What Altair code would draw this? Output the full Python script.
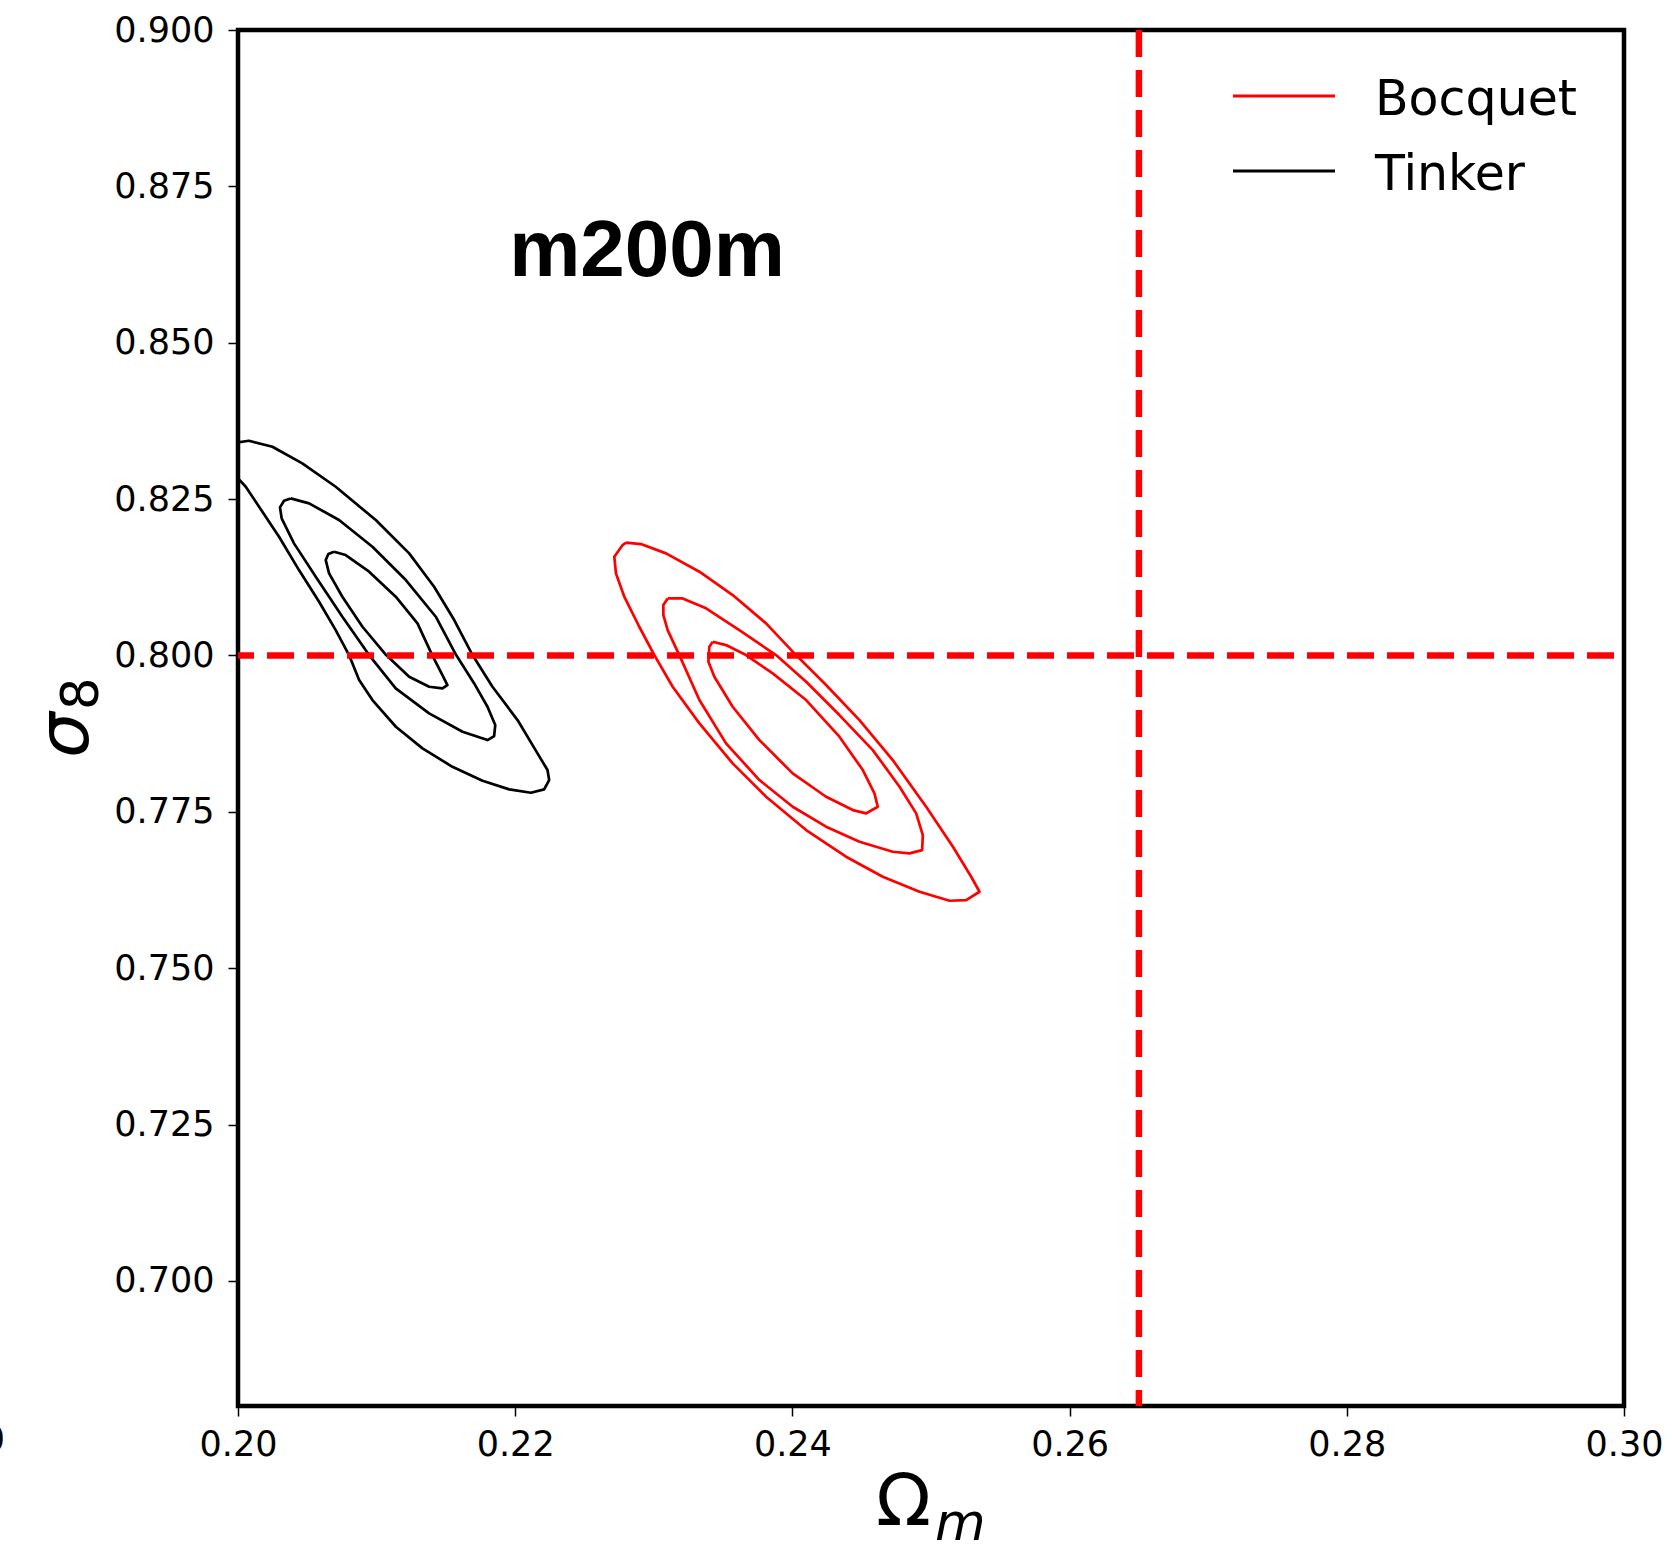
import altair as alt
import pandas as pd

# ---- contour readings (Omega_m, sigma_8) ----
tinker_outer_x = [0.19911, 0.19983, 0.20079, 0.20248, 0.20464, 0.20705, 0.20994, 0.21235, 0.21415, 0.21560,
                  0.21692, 0.21836, 0.22017, 0.22161, 0.22233, 0.22245, 0.22209, 0.22113, 0.21957, 0.21764,
                  0.21547, 0.21331, 0.21139, 0.20970, 0.20874, 0.20801, 0.20705, 0.20585, 0.20440, 0.20296,
                  0.20152, 0.20056, 0.20007, 0.19935]
tinker_outer_y = [0.83257, 0.83401, 0.83433, 0.83337, 0.83072, 0.82697, 0.82165, 0.81632, 0.81098, 0.80566,
                  0.80006, 0.79499, 0.78967, 0.78434, 0.78168, 0.78008, 0.77859, 0.77805, 0.77859, 0.77996,
                  0.78220, 0.78514, 0.78860, 0.79287, 0.79607, 0.80006, 0.80406, 0.80859, 0.81365, 0.81898,
                  0.82378, 0.82697, 0.82816, 0.83072]

tinker_mid_x = [0.20380, 0.20513, 0.20729, 0.20970, 0.21211, 0.21427, 0.21574, 0.21704, 0.21800, 0.21856,
                0.21848, 0.21800, 0.21620, 0.21379, 0.21138, 0.20946, 0.20753, 0.20561, 0.20404, 0.20315,
                0.20303, 0.20332]
tinker_mid_y = [0.82511, 0.82432, 0.82165, 0.81739, 0.81206, 0.80619, 0.80006, 0.79553, 0.79180, 0.78887,
                0.78711, 0.78647, 0.78781, 0.79074, 0.79473, 0.80006, 0.80619, 0.81259, 0.81792, 0.82192,
                0.82368, 0.82474]

tinker_in_x = [0.20693, 0.20777, 0.20946, 0.21138, 0.21295, 0.21401, 0.21475, 0.21511, 0.21475, 0.21379,
               0.21235, 0.21069, 0.20898, 0.20753, 0.20657, 0.20633, 0.20652]
tinker_in_y = [0.81659, 0.81605, 0.81339, 0.80939, 0.80513, 0.80006, 0.79687, 0.79527, 0.79473, 0.79500,
               0.79660, 0.80006, 0.80459, 0.80939, 0.81312, 0.81525, 0.81621]

bocquet_outer_x = [0.22799, 0.22907, 0.23088, 0.23329, 0.23569, 0.23810, 0.24026, 0.24243, 0.24484, 0.24724,
                   0.24965, 0.25158, 0.25290, 0.25350, 0.25254, 0.25134, 0.24917, 0.24652, 0.24387, 0.24099,
                   0.23810, 0.23569, 0.23329, 0.23136, 0.23004, 0.22895, 0.22787, 0.22727, 0.22715, 0.22775]
bocquet_outer_y = [0.81803, 0.81781, 0.81632, 0.81339, 0.80966, 0.80513, 0.80006, 0.79527, 0.78967, 0.78327,
                   0.77581, 0.76942, 0.76462, 0.76222, 0.76089, 0.76078, 0.76222, 0.76462, 0.76782, 0.77208,
                   0.77741, 0.78274, 0.78914, 0.79500, 0.80006, 0.80459, 0.80939, 0.81312, 0.81579, 0.81765]

bocquet_mid_x = [0.23100, 0.23208, 0.23377, 0.23617, 0.23882, 0.24099, 0.24339, 0.24580, 0.24773, 0.24893,
                 0.24941, 0.24936, 0.24845, 0.24724, 0.24484, 0.24243, 0.24002, 0.23762, 0.23521, 0.23329,
                 0.23184, 0.23100, 0.23069, 0.23069]
bocquet_mid_y = [0.80912, 0.80912, 0.80753, 0.80406, 0.80006, 0.79580, 0.79047, 0.78487, 0.77901, 0.77475,
                 0.77128, 0.76888, 0.76835, 0.76862, 0.77022, 0.77262, 0.77581, 0.78008, 0.78594, 0.79287,
                 0.80006, 0.80406, 0.80646, 0.80806]

bocquet_in_x = [0.23425, 0.23521, 0.23665, 0.23858, 0.24099, 0.24339, 0.24508, 0.24592, 0.24616, 0.24532,
                0.24436, 0.24243, 0.24002, 0.23762, 0.23569, 0.23437, 0.23394, 0.23401]
bocquet_in_y = [0.80220, 0.80166, 0.80006, 0.79713, 0.79287, 0.78701, 0.78168, 0.77794, 0.77581, 0.77475,
                0.77528, 0.77741, 0.78114, 0.78647, 0.79180, 0.79660, 0.79900, 0.80140]

fiducial_omega_m = 0.265
fiducial_sigma_8 = 0.800

models = ["Bocquet", "Tinker"]
model_colors = ["#ff0000", "#000000"]
panel_label = "m200m"

x_ticks = [0.20, 0.22, 0.24, 0.26, 0.28, 0.30]
y_ticks = [0.700, 0.725, 0.750, 0.775, 0.800, 0.825, 0.850, 0.875, 0.900]
x_domain = [0.20, 0.30]
y_domain = [0.68, 0.90]

# ---- build table ----
rows = []
contours = [
    ("Tinker", "t1", tinker_outer_x, tinker_outer_y),
    ("Tinker", "t2", tinker_mid_x, tinker_mid_y),
    ("Tinker", "t3", tinker_in_x, tinker_in_y),
    ("Bocquet", "b1", bocquet_outer_x, bocquet_outer_y),
    ("Bocquet", "b2", bocquet_mid_x, bocquet_mid_y),
    ("Bocquet", "b3", bocquet_in_x, bocquet_in_y),
]
for model, cid, xs_, ys_ in contours:
    pts = list(zip(xs_, ys_)) + [(xs_[0], ys_[0])]
    for i, (a, b) in enumerate(pts):
        rows.append({"model": model, "contour": cid, "om": a, "s8": b, "i": i})
df = pd.DataFrame(rows)

W, H = 1386, 1376

xs = alt.Scale(domain=x_domain, nice=False, zero=False)
ys = alt.Scale(domain=y_domain, nice=False, zero=False)

lines = alt.Chart(df).mark_line(strokeWidth=2.7, clip=True, strokeJoin="round").encode(
    x=alt.X("om:Q", scale=xs,
            axis=alt.Axis(values=x_ticks, format=".2f", title=None, labelPadding=11,
                          labelFlush=False, grid=False, domain=False)),
    y=alt.Y("s8:Q", scale=ys,
            axis=alt.Axis(values=y_ticks, format=".3f", title=None, labelPadding=14,
                          labelFlush=False, grid=False, domain=False)),
    color=alt.Color("model:N", scale=alt.Scale(domain=models, range=model_colors), legend=None),
    detail="contour:N",
    order="i:Q",
)

hline = alt.Chart(pd.DataFrame({"s8": [fiducial_sigma_8]})).mark_rule(
    color="#ff0000", strokeWidth=6.5, strokeDash=[27, 13], strokeDashOffset=30
).encode(y=alt.Y("s8:Q", scale=ys))

vline = alt.Chart(pd.DataFrame({"om": [fiducial_omega_m]})).mark_rule(
    color="#ff0000", strokeWidth=6.5, strokeDash=[27, 13]
).encode(x=alt.X("om:Q", scale=xs))

label = alt.Chart(pd.DataFrame({"t": [panel_label]})).mark_text(
    font="Liberation Sans", fontWeight="bold", fontSize=80, align="center", baseline="alphabetic",
    color="black"
).encode(x=alt.value(409), y=alt.value(246), text="t:N")

# legend (manual)
legend_layers = []
for k, (name, col) in enumerate(zip(models, model_colors)):
    yy = 66 + 75 * k
    legend_layers.append(
        alt.Chart(pd.DataFrame({"m": [name]})).mark_rule(strokeWidth=3, color=col).encode(
            x=alt.value(995), x2=alt.value(1097), y=alt.value(yy))
    )
    legend_layers.append(
        alt.Chart(pd.DataFrame({"m": [name]})).mark_text(
            font="DejaVu Sans", fontSize=49, align="left", baseline="middle", color="black", dy=4
        ).encode(x=alt.value(1137), y=alt.value(yy), text="m:N")
    )

# axis titles as math-like text
om_big = alt.Chart(pd.DataFrame({"t": ["Ω"]})).mark_text(
    font="DejaVu Sans", fontSize=72, align="left", baseline="alphabetic", color="black"
).encode(x=alt.value(638), y=alt.value(1495), text="t:N")
om_sub = alt.Chart(pd.DataFrame({"t": ["m"]})).mark_text(
    font="DejaVu Sans", fontSize=52, fontStyle="italic", align="left", baseline="alphabetic", color="black"
).encode(x=alt.value(697), y=alt.value(1510), text="t:N")
s8_big = alt.Chart(pd.DataFrame({"t": ["σ"]})).mark_text(
    font="DejaVu Sans", fontSize=72, fontStyle="italic", align="left", baseline="alphabetic",
    angle=270, color="black"
).encode(x=alt.value(-150), y=alt.value(728), text="t:N")
s8_sub = alt.Chart(pd.DataFrame({"t": ["8"]})).mark_text(
    font="DejaVu Sans", fontSize=51, align="left", baseline="alphabetic", angle=270, color="black"
).encode(x=alt.value(-140), y=alt.value(680), text="t:N")

# clipped remnant of neighbouring panel's tick label
stray = alt.Chart(pd.DataFrame({"t": ["0"]})).mark_text(
    font="DejaVu Sans", fontSize=35, align="right", baseline="middle", color="black"
).encode(x=alt.value(-233), y=alt.value(H + 34), text="t:N")

chart = alt.layer(
    lines, hline, vline, label, *legend_layers, om_big, om_sub, s8_big, s8_sub, stray
).properties(
    width=W, height=H,
    autosize=alt.AutoSizeParams(type="none"),
    padding={"left": 238, "top": 30, "right": 48, "bottom": 138},
    background="white",
).configure_view(
    stroke="black", strokeWidth=4.5
).configure_axis(
    labelFont="DejaVu Sans", labelFontSize=35, labelColor="black",
    tickColor="black", tickWidth=1.5, tickSize=10,
)

chart.save("out.html", embed_options={"renderer": "svg", "actions": False})
